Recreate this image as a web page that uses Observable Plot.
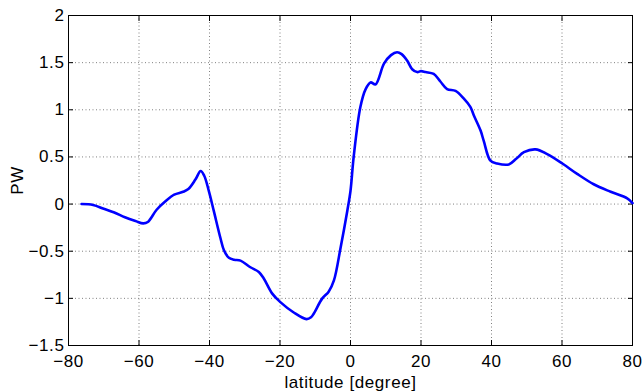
<!DOCTYPE html>
<html>
<head>
<meta charset="utf-8">
<script src="https://cdn.jsdelivr.net/npm/d3@7"></script>
<script src="https://cdn.jsdelivr.net/npm/@observablehq/plot@0.6"></script>
<style>
  html, body { margin: 0; padding: 0; background: white; }
  svg text { letter-spacing: 0.6px; }
</style>
</head>
<body>
<div id="chart"></div>
<script>
const lat = [-76.3, -73, -70, -67, -64, -61, -58.8, -57.5, -55, -52.5, -50, -47.5, -46, -44, -42.5, -41.5, -40.2, -38.8, -36.9, -35.9, -34.5, -33, -31.2, -28.4, -26, -24.6, -22.2, -19.9, -16.1, -12.5, -11.2, -10.4, -8.0, -6.2, -4.7, -2.8, -0.9, 0, 0.9, 2.8, 4.3, 5.7, 7.1, 9.5, 11.5, 13.2, 14.5, 16.1, 17.5, 18.9, 20, 21.3, 23.6, 25.5, 27.4, 29.8, 32.1, 34, 35, 36.9, 37.8, 39.7, 41.6, 44.9, 47, 49.2, 52.5, 55.8, 60.1, 64.3, 69.0, 73.8, 78.5, 80];
const pw = [0.00, -0.01, -0.05, -0.09, -0.14, -0.18, -0.205, -0.19, -0.06, 0.03, 0.10, 0.13, 0.16, 0.26, 0.35, 0.30, 0.14, -0.07, -0.36, -0.49, -0.57, -0.59, -0.60, -0.67, -0.72, -0.79, -0.95, -1.04, -1.15, -1.22, -1.20, -1.16, -1.0, -0.93, -0.81, -0.46, -0.07, 0.14, 0.50, 1.03, 1.22, 1.29, 1.27, 1.49, 1.58, 1.61, 1.59, 1.52, 1.43, 1.40, 1.41, 1.40, 1.38, 1.30, 1.22, 1.20, 1.12, 1.03, 0.94, 0.78, 0.67, 0.46, 0.43, 0.42, 0.48, 0.55, 0.58, 0.53, 0.43, 0.32, 0.21, 0.13, 0.06, 0.01];
const xTicks = [-80, -60, -40, -20, 0, 20, 40, 60, 80];
const yTicks = [-1.5, -1, -0.5, 0, 0.5, 1, 1.5, 2];
const xLabel = "latitude [degree]";
const yLabel = "PW";

const data = lat.map((x, i) => ({lat: x, pw: pw[i]}));
const gridStyle = {stroke: "#808080", strokeOpacity: 1, strokeWidth: 1, strokeDasharray: "1,2.5"};
const fmt = (d) => String(d).replace("-", "\u2212");
const FS = 17;

const chart = Plot.plot({
  width: 643,
  height: 391,
  marginLeft: 68,
  marginRight: 11,
  marginTop: 15,
  marginBottom: 46,
  style: {fontFamily: "'Liberation Sans', Arial, sans-serif", fontSize: "17px", background: "white", color: "black"},
  x: {domain: [-80, 80]},
  y: {domain: [-1.5, 2]},
  marks: [
    Plot.gridX(xTicks, gridStyle),
    Plot.gridY(yTicks, gridStyle),
    Plot.axisX(xTicks, {anchor: "bottom", tickSize: 0, tickPadding: 9, tickFormat: fmt, fontSize: FS, label: xLabel, labelAnchor: "center", labelArrow: "none", labelOffset: 42}),
    Plot.axisX(xTicks, {anchor: "bottom", tickSize: 5, dy: -5, tickFormat: () => "", label: null}),
    Plot.axisX(xTicks, {anchor: "top", tickSize: 5, dy: 5, tickFormat: () => "", label: null}),
    Plot.axisY(yTicks, {anchor: "left", tickSize: 0, tickPadding: 4, tickFormat: fmt, fontSize: FS, label: yLabel, labelAnchor: "center", labelArrow: "none", labelOffset: 58}),
    Plot.axisY(yTicks, {anchor: "left", tickSize: 5, dx: 5, tickFormat: () => "", label: null}),
    Plot.axisY(yTicks, {anchor: "right", tickSize: 5, dx: -5, tickFormat: () => "", label: null}),
    Plot.frame({stroke: "black", strokeWidth: 1}),
    Plot.line(data, {x: "lat", y: "pw", stroke: "#0000ff", strokeWidth: 2.6, curve: "catmull-rom"})
  ]
});
document.getElementById("chart").appendChild(chart);
</script>
</body>
</html>
